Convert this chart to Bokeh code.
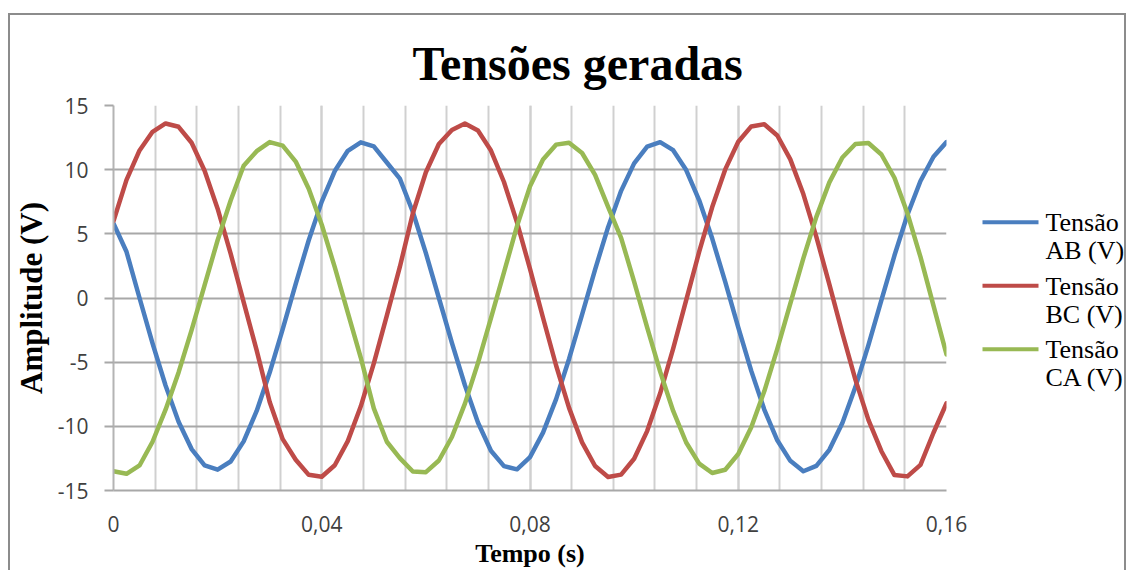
from bokeh.plotting import figure
from bokeh.layouts import row
from bokeh.models import FixedTicker, Range1d, CustomJSTickFormatter
from bokeh.core.properties import value
from bokeh.embed import file_html
from bokeh.resources import INLINE

# ---------------- data ----------------
tempo = [0.0, 0.0025, 0.005, 0.0075, 0.01, 0.0125, 0.015, 0.0175, 0.02, 0.0225,
         0.025, 0.0275, 0.03, 0.0325, 0.035, 0.0375, 0.04, 0.0425, 0.045, 0.0475,
         0.05, 0.0525, 0.055, 0.0575, 0.06, 0.0625, 0.065, 0.0675, 0.07, 0.0725,
         0.075, 0.0775, 0.08, 0.0825, 0.085, 0.0875, 0.09, 0.0925, 0.095, 0.0975,
         0.1, 0.1025, 0.105, 0.1075, 0.11, 0.1125, 0.115, 0.1175, 0.12, 0.1225,
         0.125, 0.1275, 0.13, 0.1325, 0.135, 0.1375, 0.14, 0.1425, 0.145, 0.1475,
         0.15, 0.1525, 0.155, 0.1575, 0.16]

tensao_ab = [5.8, 3.6, 0.0, -3.53, -6.82, -9.64, -11.77, -13.05, -13.38, -12.74,
             -11.17, -8.80, -5.81, -2.42, 1.11, 4.50, 7.51, 9.89, 11.47, 12.13,
             11.82, 10.56, 9.3, 6.7, 3.5, 0.0, -3.5, -6.8, -9.7, -11.9,
             -13.1, -13.35, -12.4, -10.49, -7.90, -4.75, -1.29, 2.22, 5.52, 8.35,
             10.49, 11.79, 12.14, 11.52, 9.97, 7.61, 4.63, 1.25, -2.28, -5.68,
             -8.69, -11.09, -12.69, -13.5, -13.08, -11.83, -9.74, -6.94, -3.67, -0.16,
             3.31, 6.49, 9.12, 11.01, 12.15]

tensao_bc = [6.0, 9.2, 11.5, 12.95, 13.6, 13.34, 12.10, 9.92, 6.96, 3.46,
             -0.32, -4.08, -8.1, -11.0, -12.60, -13.78, -13.93, -13.03, -11.15, -8.44,
             -5.10, -1.38, 2.42, 6.6, 9.8, 12.0, 13.09, 13.60, 13.05, 11.49,
             9.04, 5.89, 2.27, -1.54, -5.24, -8.56, -11.25, -13.09, -13.95, -13.76,
             -12.53, -10.37, -7.43, -3.94, -0.16, 3.61, 7.09, 10.02, 12.17, 13.37,
             13.54, 12.66, 10.80, 8.10, 4.77, 1.06, -2.75, -6.36, -9.50, -11.94,
             -13.8, -13.9, -13.0, -10.5, -8.2]

tensao_ca = [-13.5, -13.7, -13.05, -11.2, -8.7, -5.8, -2.5, 1.0, 4.5, 7.6,
             10.3, 11.44, 12.15, 11.87, 10.63, 8.52, 5.71, 2.40, -1.14, -4.66,
             -8.6, -11.2, -12.48, -13.52, -13.57, -12.66, -10.83, -8.23, -5.07, -1.57,
             1.99, 5.6, 8.7, 10.8, 11.95, 12.1, 11.3, 9.6, 7.1, 4.69,
             1.28, -2.28, -5.74, -8.80, -11.26, -12.91, -13.64, -13.38, -12.16, -10.07,
             -7.27, -3.97, -0.43, 3.09, 6.32, 9.01, 10.95, 12.00, 12.08, 11.18,
             9.37, 6.6, 3.2, -0.6, -4.4]

legend_first = ["Tensão", "Tensão", "Tensão"]
legend_second = ["AB (V)", "BC (V)", "CA (V)"]
series_colors = ["#4a7ebf", "#be4b48", "#98b954"]

x_major_ticks = [0, 0.04, 0.08, 0.12, 0.16]
x_grid_ticks = [0, 0.008, 0.016, 0.024, 0.032, 0.04, 0.048, 0.056, 0.064, 0.072, 0.08,
                0.088, 0.096, 0.104, 0.112, 0.12, 0.128, 0.136, 0.144, 0.152, 0.16]
y_ticks = [-15, -10, -5, 0, 5, 10, 15]

title_text = "Tensões geradas"
x_title = "Tempo (s)"
y_title = "Amplitude (V)"

# ---------------- main figure ----------------
H = 555
p = figure(width=966, height=H,
           x_range=Range1d(0, 0.16), y_range=Range1d(-15, 15),
           output_backend="svg", toolbar_location=None,
           min_border_left=101, min_border_right=30,
           min_border_top=90, min_border_bottom=80,
           background_fill_color="white", border_fill_color="white")
p.outline_line_color = None

# title
p.title.text = title_text
p.title.align = "left"
p.title.offset = 299
p.title.standoff = 32
p.title.text_font = "Liberation Serif"
p.title.text_font_style = "bold"
p.title.text_font_size = "48px"
p.title.text_color = "black"

# axes
p.xaxis.ticker = FixedTicker(ticks=x_major_ticks, minor_ticks=x_grid_ticks)
p.yaxis.ticker = FixedTicker(ticks=y_ticks)
p.xaxis.formatter = CustomJSTickFormatter(
    code="const s = (Math.round(tick*100)/100).toString(); return s.replace('.', ',');")
p.yaxis.formatter = CustomJSTickFormatter(code="return Math.round(tick).toString();")

for ax in (p.xaxis, p.yaxis):
    ax.major_label_text_font = "Open Sans"
    ax.major_label_text_font_size = "21px"
    ax.major_label_text_color = "#404040"
    ax.axis_line_color = "#b4b4b4"
    ax.axis_line_width = 2
    ax.minor_tick_line_color = None
    ax.major_tick_in = 0
    ax.axis_label_text_font = "Liberation Serif"
    ax.axis_label_text_font_style = "bold"
    ax.axis_label_text_color = "black"

p.xaxis.axis_label = x_title
p.xaxis.axis_label_text_font_size = "26px"
p.xaxis.axis_label_standoff = 4
p.xaxis.major_tick_out = 0
p.xaxis.major_tick_line_color = None
p.xaxis.major_label_standoff = 21
p.xaxis.axis_line_color = "#a8a8a8"

p.yaxis.axis_label = y_title
p.yaxis.axis_label_text_font_size = "31px"
p.yaxis.axis_label_standoff = 6
p.yaxis.major_tick_out = 9
p.yaxis.major_tick_line_color = "#a8a8a8"
p.yaxis.major_tick_line_width = 2
p.yaxis.major_label_standoff = 16

# grids
p.xgrid.grid_line_color = "#d0d0d0"
p.xgrid.grid_line_width = 2
p.xgrid.minor_grid_line_color = "#d0d0d0"
p.xgrid.minor_grid_line_width = 2
p.ygrid.grid_line_color = "#a8a8a8"
p.ygrid.grid_line_width = 2

# series
for ys, c in zip([tensao_ab, tensao_bc, tensao_ca], series_colors):
    p.line(tempo, ys, line_color=c, line_width=4.5, line_join="round", line_cap="round")

# ---------------- legend panel (page-pixel coordinates) ----------------
# the row aligns this panel's frame with the main plot area (page y 105..490)
LX0 = 976
LW = 1114 - 966
pl = figure(width=LW, height=H,
            x_range=Range1d(LX0, LX0 + LW), y_range=Range1d(490, 105),
            output_backend="svg", toolbar_location=None,
            x_axis_location=None, y_axis_location=None,
            min_border=0, background_fill_color="white", border_fill_color="white")
pl.outline_line_color = None
pl.xgrid.visible = False
pl.ygrid.visible = False

entry_top = [221.7, 285.2, 348.7]
for i, c in enumerate(series_colors):
    ly = entry_top[i]
    pl.line([982, 1038], [ly, ly], line_color=c, line_width=4)
    pl.text(x=[1045, 1045], y=[ly + 0.5, ly + 28.5],
            text=[legend_first[i], legend_second[i]],
            text_font=value("Liberation Serif"), text_font_size=value("26px"),
            text_color="black", text_baseline="alphabetic", text_align="left")

border = "2px solid #8c8c8c"
layout = row(p, pl, margin=(13, 0, 0, 8),
             styles={"border-top": border, "border-left": border, "border-right": border})

open("out.html", "w").write(file_html(layout, INLINE))
